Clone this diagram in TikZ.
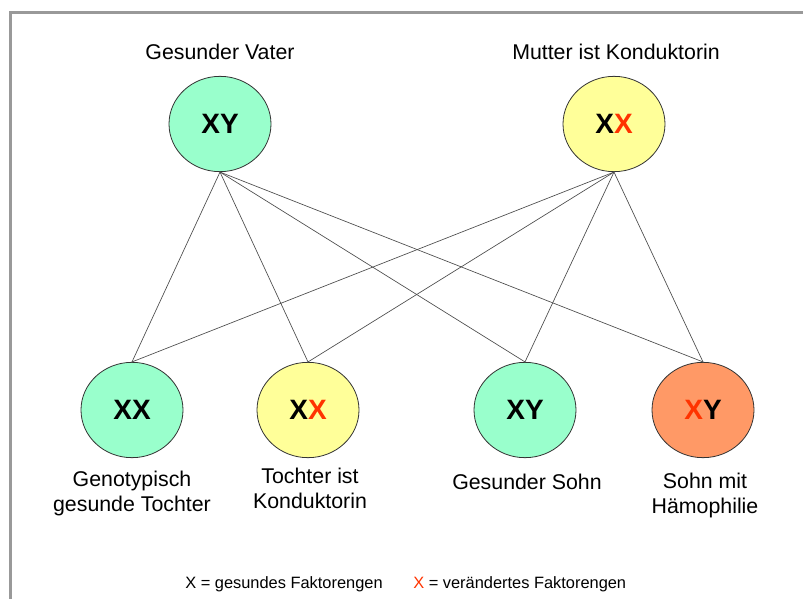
\documentclass[tikz,border=0pt]{standalone}
\usepackage{fontspec}
\setmainfont{Liberation Sans}
\usetikzlibrary{shapes.geometric}

\begin{document}
\begin{tikzpicture}
            [x=0.75pt, y=-0.75pt,
            person/.style={ellipse, draw=black!80, line width=0.6pt, minimum width=76.5pt, minimum height=71.5pt, inner sep=0pt, font=\fontsize{21}{25}\selectfont\bfseries},
            caption/.style={inner sep=0pt, align=center, font=\fontsize{16}{18.75}\selectfont},
            legend/.style={inner sep=0pt, font=\fontsize{12.3}{14}\selectfont},
            link/.style={draw=black!70, line width=0.5pt},
            ]
            \definecolor{healthy}{RGB}{153,255,204}
            \definecolor{carrier}{RGB}{255,255,153}
            \definecolor{sick}{RGB}{255,153,102}
            \definecolor{faulty}{RGB}{255,51,0}
            \useasboundingbox (0,0) rectangle (803,599);

            % frame
            \draw[line width=2.25pt, black!40] (10,599) -- (10,13) -- (803,13);

            % parents
            \node[caption, anchor=base] (fatherlbl) at (220,60) {Gesunder Vater};
            \node[caption, anchor=base] (motherlbl) at (616,60) {Mutter ist Konduktorin};
            \node[person, fill=healthy] (father) at (220,124) {XY};
            \node[person, fill=carrier] (mother) at (614,124) {X\textcolor{faulty}{X}};

            % children
            \node[person, fill=healthy] (daughter1) at (132,410) {XX};
            \node[person, fill=carrier] (daughter2) at (308,410) {X\textcolor{faulty}{X}};
            \node[person, fill=healthy] (son1) at (525,410) {XY};
            \node[person, fill=sick] (son2) at (703,410) {\textcolor{faulty}{X}Y};
            \node[caption, anchor=north] (daughter1lbl) at (132,471) {Genotypisch\\gesunde Tochter};
            \node[caption, anchor=north] (daughter2lbl) at (310,468) {Tochter ist\\Konduktorin};
            \node[caption, anchor=north] (son1lbl) at (527,474) {Gesunder Sohn};
            \node[caption, anchor=north] (son2lbl) at (705,473) {Sohn mit\\Hämophilie};

            % links
            \draw[link] (father.south) -- (daughter1.north);
            \draw[link] (father.south) -- (daughter2.north);
            \draw[link] (father.south) -- (son1.north);
            \draw[link] (father.south) -- (son2.north);
            \draw[link] (mother.south) -- (daughter1.north);
            \draw[link] (mother.south) -- (daughter2.north);
            \draw[link] (mother.south) -- (son1.north);
            \draw[link] (mother.south) -- (son2.north);

            % legend
            \node[legend, anchor=base west] (leghealthy) at (185,588) {X = gesundes Faktorengen};
            \node[legend, anchor=base west] (legfaulty) at (413,588) {\textcolor{faulty}{X} = verändertes Faktorengen};
        \end{tikzpicture}
\end{document}
